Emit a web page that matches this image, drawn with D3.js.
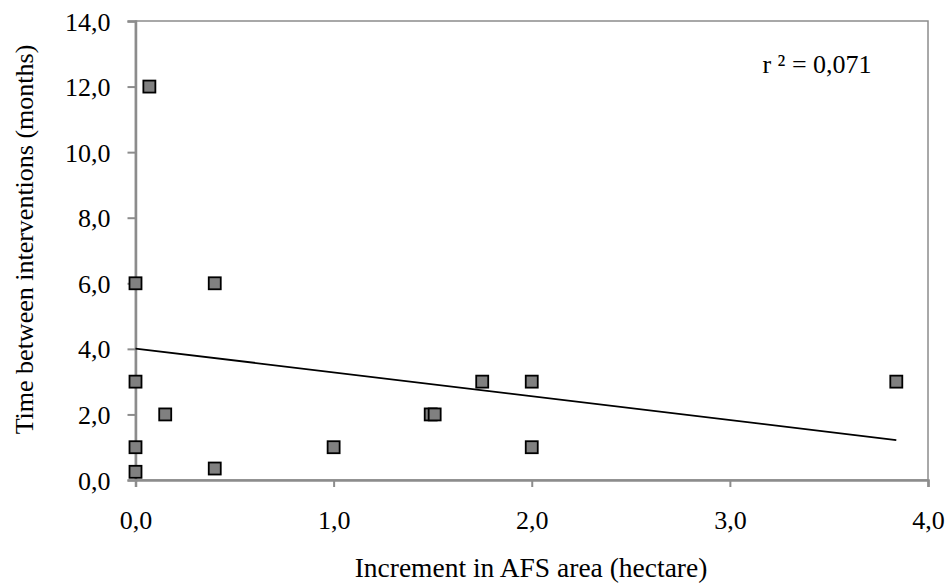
<!DOCTYPE html>
<html><head><meta charset="utf-8">
<script src="https://cdn.jsdelivr.net/npm/d3@7"></script>
<style>body{margin:0;background:#fff}svg{display:block}text{font-family:'Liberation Serif','Times New Roman',serif}</style>
</head><body>
<svg id="chart" width="950" height="586"></svg>
<script>
const xValues = [0.07, 0, 0.4, 0, 0.15, 0, 0, 0.4, 1.0, 1.49, 1.51, 1.75, 2.0, 2.0, 3.84];
const yValues = [12, 6, 6, 3, 2, 1, 0.25, 0.35, 1, 2, 2, 3, 3, 1, 3];
const xTicks = [0, 1, 2, 3, 4];
const yTicks = [0, 2, 4, 6, 8, 10, 12, 14];
const trendIntercept = 4.01;
const trendSlope = -0.727;
const trendRange = [0, 3.84];
const rSquaredLabel = "r ² = 0,071";
const xTitle = "Increment in AFS area (hectare)";
const yTitle = "Time between interventions (months)";

const svg = d3.select("#chart");
const m = {left: 135.5, right: 928, top: 21, bottom: 480};
const x = d3.scaleLinear().domain([0, 4]).range([m.left, m.right]);
const y = d3.scaleLinear().domain([0, 14]).range([m.bottom, m.top]);
const fmt = d => d3.format(".1f")(d).replace(".", ",");
const font = "'Liberation Serif', 'Times New Roman', serif";
const axisColor = "#8c8c8c";

// plot border (top/right)
svg.append("rect").attr("x", m.left).attr("y", m.top)
  .attr("width", m.right - m.left).attr("height", m.bottom - m.top)
  .attr("fill", "none").attr("stroke", axisColor).attr("stroke-width", 1.5);

const xAxis = svg.append("g").attr("transform", `translate(0,${m.bottom})`)
  .call(d3.axisBottom(x).tickValues(xTicks).tickFormat(fmt).tickSize(7).tickPadding(0));
const yAxis = svg.append("g").attr("transform", `translate(${m.left},0)`)
  .call(d3.axisLeft(y).tickValues(yTicks).tickFormat(fmt).tickSize(8).tickPadding(17));
[xAxis, yAxis].forEach(a => {
  a.attr("font-family", font).attr("font-size", 26);
  a.select(".domain").attr("stroke", axisColor).attr("stroke-width", 2.5);
  a.selectAll(".tick line").attr("stroke", axisColor).attr("stroke-width", 2);
  a.selectAll(".tick text").attr("fill", "#000").style("font-family", font).style("font-size", "26px");
});
xAxis.selectAll(".tick text").attr("y", 49).attr("dy", null);
yAxis.selectAll(".tick text").attr("dy", "0.35em");

// trend line
svg.append("line")
  .attr("x1", x(trendRange[0])).attr("y1", y(trendIntercept + trendSlope * trendRange[0]))
  .attr("x2", x(trendRange[1])).attr("y2", y(trendIntercept + trendSlope * trendRange[1]))
  .attr("stroke", "#000").attr("stroke-width", 1.8);

// points
const pts = xValues.map((v, i) => ({x: v, y: yValues[i]}));
const s = 12;
svg.append("g").selectAll("rect").data(pts).join("rect")
  .attr("x", d => x(d.x) - s / 2).attr("y", d => y(d.y) - s / 2)
  .attr("width", s).attr("height", s)
  .attr("fill", "#808080").attr("stroke", "#000").attr("stroke-width", 1.8);

svg.append("text").attr("x", 817).attr("y", 73).attr("text-anchor", "middle")
  .style("font-family", font).style("font-size", "26px").text(rSquaredLabel);

svg.append("text").attr("x", 531).attr("y", 577).attr("text-anchor", "middle")
  .style("font-family", font).style("font-size", "27.5px").text(xTitle);

svg.append("text").attr("transform", `translate(33,239.5) rotate(-90)`)
  .attr("text-anchor", "middle")
  .style("font-family", font).style("font-size", "26px").text(yTitle);
</script>
</body></html>
